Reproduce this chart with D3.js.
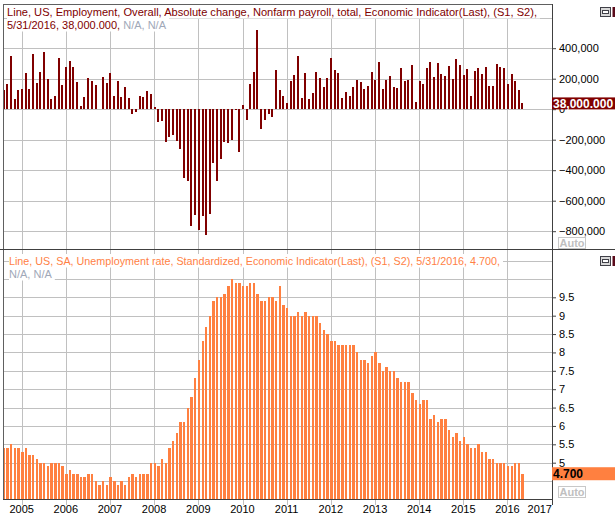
<!DOCTYPE html>
<html>
<head>
<meta charset="utf-8">
<script src="https://cdn.jsdelivr.net/npm/d3@7"></script>
<style>
  body { margin: 0; background: #fff; }
  svg { display: block; font-family: "Liberation Sans", Arial, sans-serif; }
</style>
</head>
<body>
<div class="chart-container"></div>
<script>
var w = 615;
var h = 515;

// monthly values, Aug 2004 .. May 2016
var firstMonth = new Date(2004, 7, 1);

// nonfarm payroll, absolute change (thousands)
var payrolls = [
  129, 162, 346, 65, 129,
  134, 239, 134, 363, 175, 245, 373, 196, 67, 84, 337, 159,
  277, 315, 280, 181, 23, 77, 207, 184, 157, 2, 210, 171,
  238, 88, 188, 78, 144, 71, -33, -16, 85, 82, 118, 97,
  15, -86, -80, -214, -182, -172, -210, -259, -452, -474, -765, -697,
  -791, -703, -823, -686, -351, -470, -329, -212, -219, -200, -7, -279,
  28, -69, 163, 243, 522, -133, -70, -34, -52, 257, 123, 88,
  42, 188, 225, 346, 73, 235, 70, 107, 246, 202, 146, 207,
  338, 257, 239, 75, 115, 87, 143, 190, 181, 134, 150, 243,
  190, 311, 135, 192, 218, 146, 140, 268, 185, 189, 291, 45,
  187, 168, 272, 310, 213, 306, 232, 218, 286, 200, 331, 292,
  221, 265, 84, 251, 273, 228, 277, 150, 149, 295, 280, 271,
  168, 233, 186, 123, 38
];

// unemployment rate (%)
var unemployment = [
  5.4, 5.4, 5.5, 5.4, 5.4,
  5.3, 5.4, 5.2, 5.2, 5.1, 5.0, 5.0, 4.9, 5.0, 5.0, 5.0, 4.9,
  4.7, 4.8, 4.7, 4.7, 4.6, 4.6, 4.7, 4.7, 4.5, 4.4, 4.5, 4.4,
  4.6, 4.5, 4.4, 4.5, 4.4, 4.6, 4.7, 4.6, 4.7, 4.7, 4.7, 5.0,
  5.0, 4.9, 5.1, 5.0, 5.4, 5.6, 5.8, 6.1, 6.1, 6.5, 6.8, 7.3,
  7.8, 8.3, 8.7, 9.0, 9.4, 9.5, 9.5, 9.6, 9.8, 10.0, 9.9, 9.9,
  9.8, 9.8, 9.9, 9.9, 9.6, 9.4, 9.4, 9.5, 9.5, 9.4, 9.8, 9.3,
  9.2, 9.0, 9.0, 9.1, 9.0, 9.1, 9.0, 9.0, 9.0, 8.8, 8.6, 8.5,
  8.3, 8.3, 8.2, 8.2, 8.2, 8.2, 8.2, 8.0, 7.8, 7.8, 7.7, 7.9,
  8.0, 7.7, 7.5, 7.6, 7.5, 7.5, 7.3, 7.2, 7.2, 7.2, 6.9, 6.7,
  6.6, 6.7, 6.7, 6.2, 6.3, 6.1, 6.2, 6.2, 5.9, 5.7, 5.8, 5.6,
  5.7, 5.5, 5.4, 5.4, 5.5, 5.3, 5.3, 5.1, 5.1, 5.0, 5.0, 5.0,
  4.9, 4.9, 5.0, 5.0, 4.7
];

var payrollTicks = [400000, 200000, 0, -200000, -400000, -600000, -800000];
var payrollGrid = [600000, 400000, 200000, 0, -200000, -400000, -600000, -800000];
var rateTicks = [9.5, 9, 8.5, 8, 7.5, 7, 6.5, 6, 5.5, 5];
var rateGrid = [10.5, 10, 9.5, 9, 8.5, 8, 7.5, 7, 6.5, 6, 5.5, 5, 4.5];
var years = [2005, 2006, 2007, 2008, 2009, 2010, 2011, 2012, 2013, 2014, 2015, 2016, 2017];

var payrollTitle = "Line, US, Employment, Overall, Absolute change, Nonfarm payroll, total, Economic Indicator(Last), (S1, S2),";
var payrollLast = "5/31/2016, 38,000.000,";
var rateTitle = "Line, US, SA, Unemployment rate, Standardized, Economic Indicator(Last), (S1, S2), 5/31/2016, 4.700,";
var naText = "N/A, N/A";

var months = d3.timeMonth.range(firstMonth, d3.timeMonth.offset(firstMonth, payrolls.length));
var payData = months.map(function (d, i) { return { date: d, value: payrolls[i] * 1000 }; });
var rateData = months.map(function (d, i) { return { date: d, value: unemployment[i] }; });

var left = 3, right = 552;
var top1 = 4, bot1 = 249.5, top2 = 249.5, bot2 = 499;

var x = d3.scaleTime()
  .domain([new Date(2005, 0, 1), new Date(2017, 0, 1)])
  .range([21.7, 551.7]);

var y1 = d3.scaleLinear().domain([0, 200000]).range([109.2, 78.7]);
var y2 = d3.scaleLinear().domain([5, 9.5]).range([462.7, 297.3]);

var svg = d3.select(".chart-container")
  .append("svg")
  .attr("width", w)
  .attr("height", h);

svg.append("rect").attr("width", w).attr("height", h).attr("fill", "#fff");

var grid = svg.append("g").attr("stroke", "#c0c0c0").attr("shape-rendering", "crispEdges");

// vertical grid in both panels, running down into the time axis
grid.selectAll(".vg")
  .data(years.slice(0, -1))
  .enter()
  .append("line")
  .attr("x1", function (d) { return Math.round(x(new Date(d, 0, 1))) + 0.5; })
  .attr("x2", function (d) { return Math.round(x(new Date(d, 0, 1))) + 0.5; })
  .attr("y1", top1)
  .attr("y2", bot2 + 6);

grid.selectAll(".hg1")
  .data(payrollGrid)
  .enter()
  .append("line")
  .attr("x1", left).attr("x2", right)
  .attr("y1", function (d) { return Math.round(y1(d)) + 0.5; })
  .attr("y2", function (d) { return Math.round(y1(d)) + 0.5; });

grid.selectAll(".hg2")
  .data(rateGrid)
  .enter()
  .append("line")
  .attr("x1", left).attr("x2", right)
  .attr("y1", function (d) { return Math.round(y2(d)) + 0.5; })
  .attr("y2", function (d) { return Math.round(y2(d)) + 0.5; });

// bars
svg.append("g")
  .attr("shape-rendering", "crispEdges")
  .selectAll("rect")
  .data(payData)
  .enter()
  .append("rect")
  .attr("x", function (d) { return x(d.date) - 0.6; })
  .attr("width", 2)
  .attr("y", function (d) { return Math.min(y1(d.value), y1(0)); })
  .attr("height", function (d) { return Math.abs(y1(d.value) - y1(0)); })
  .attr("fill", "#800000");

svg.append("g")
  .attr("shape-rendering", "crispEdges")
  .selectAll("rect")
  .data(rateData)
  .enter()
  .append("rect")
  .attr("x", function (d) { return x(d.date) - 0.6; })
  .attr("width", 2.4)
  .attr("y", function (d) { return y2(d.value); })
  .attr("height", function (d) { return bot2 - y2(d.value); })
  .attr("fill", "#ff8040");

// header lines with white background
function header(xPos, yPos, parts, width) {
  var t = svg.append("text")
    .attr("x", xPos)
    .attr("y", yPos)
    .style("font-size", "11px");
  parts.forEach(function (p) {
    t.append("tspan").attr("fill", p[1]).text(p[0]);
  });
  if (width) t.attr("textLength", width).attr("lengthAdjust", "spacingAndGlyphs");
  var len = width || t.node().getComputedTextLength();
  svg.insert("rect", function () { return t.node(); })
    .attr("x", xPos)
    .attr("y", yPos - 11)
    .attr("width", len + 3)
    .attr("height", 13.5)
    .attr("fill", "#fff");
}

header(7, 16, [[payrollTitle, "#800000"]], 530);
header(7, 29, [[payrollLast, "#800000"], [" " + naText, "#a0a8b8"]], null);
header(9, 265, [[rateTitle, "#ff7f45"]], 491);
header(9, 278, [[naText, "#a0a8b8"]], null);

// frame
var frame = svg.append("g").attr("fill", "none").attr("shape-rendering", "crispEdges");
frame.append("line").attr("x1", left).attr("x2", right).attr("y1", top1).attr("y2", top1).attr("stroke", "#606060");
frame.append("line").attr("x1", left).attr("x2", left).attr("y1", top1).attr("y2", bot2).attr("stroke", "#606060");
frame.append("line").attr("x1", 0).attr("x2", w).attr("y1", bot1).attr("y2", bot1).attr("stroke", "#404040");
frame.append("line").attr("x1", left).attr("x2", right).attr("y1", bot2).attr("y2", bot2).attr("stroke", "#404040");
frame.append("line").attr("x1", right).attr("x2", right).attr("y1", top1).attr("y2", bot2 + 6).attr("stroke", "#404040");

// right axes
var axis1 = d3.axisRight(y1)
  .tickValues(payrollTicks)
  .tickFormat(d3.format(","))
  .tickSizeOuter(0)
  .tickSize(4)
  .tickPadding(3);

var axis2 = d3.axisRight(y2)
  .tickValues(rateTicks)
  .tickFormat(d3.format(""))
  .tickSizeOuter(0)
  .tickSize(4)
  .tickPadding(3);

[axis1, axis2].forEach(function (ax) {
  var g = svg.append("g")
    .attr("transform", "translate(" + right + ",0)")
    .call(ax);
  g.select(".domain").remove();
  g.selectAll("line").attr("stroke", "#404040");
  g.selectAll("text")
    .attr("fill", "#000")
    .style("font-size", "11px")
    .style("font-family", "Liberation Sans, Arial, sans-serif");
});

// time axis labels
svg.append("g")
  .selectAll("text")
  .data(years)
  .enter()
  .append("text")
  .attr("x", function (d) { return d === 2017 ? right : x(new Date(d, 0, 1)); })
  .attr("y", 513)
  .attr("text-anchor", function (d) { return d === 2017 ? "end" : "middle"; })
  .style("font-size", "11px")
  .attr("fill", "#000")
  .text(function (d) { return d; });

// last value labels
var lastPay = payData[payData.length - 1].value;
var lastRate = rateData[rateData.length - 1].value;

svg.append("rect")
  .attr("x", right).attr("y", y1(lastPay) - 6)
  .attr("width", w - right).attr("height", 12)
  .attr("fill", "#800000");
svg.append("text")
  .attr("x", right + 1).attr("y", y1(lastPay) + 4.5)
  .attr("fill", "#fff")
  .style("font-size", "12px").style("font-weight", "bold")
  .text(d3.format(",.3f")(lastPay));

svg.append("rect")
  .attr("x", right).attr("y", y2(lastRate) - 6.5)
  .attr("width", w - right).attr("height", 13)
  .attr("fill", "#ff8040");
svg.append("text")
  .attr("x", right + 1).attr("y", y2(lastRate) + 4.5)
  .attr("fill", "#000")
  .style("font-size", "12px").style("font-weight", "bold")
  .text(d3.format(".3f")(lastRate));

// "Auto" boxes
[237, 486].forEach(function (yy) {
  svg.append("rect")
    .attr("x", 558.5).attr("y", yy + 0.5)
    .attr("width", 27).attr("height", 11)
    .attr("fill", "#fff").attr("stroke", "#c8c8c8");
  svg.append("text")
    .attr("x", 572).attr("y", yy + 10)
    .attr("text-anchor", "middle")
    .attr("fill", "#c0c0c0")
    .style("font-size", "11px").style("font-weight", "bold")
    .text("Auto");
});

// panel icons
[7, 256].forEach(function (yy) {
  svg.append("rect")
    .attr("x", 600.5).attr("y", yy + 0.5)
    .attr("width", 10).attr("height", 9)
    .attr("fill", "#d8d8d8").attr("stroke", "#404048");
  svg.append("rect")
    .attr("x", 602.5).attr("y", yy + 3.5)
    .attr("width", 6).attr("height", 3)
    .attr("fill", "#fff").attr("stroke", "#404048");
  svg.append("rect")
    .attr("x", 612.5).attr("y", yy)
    .attr("width", 3).attr("height", 10)
    .attr("fill", "#5a0a1a");
});
</script>
</body>
</html>
